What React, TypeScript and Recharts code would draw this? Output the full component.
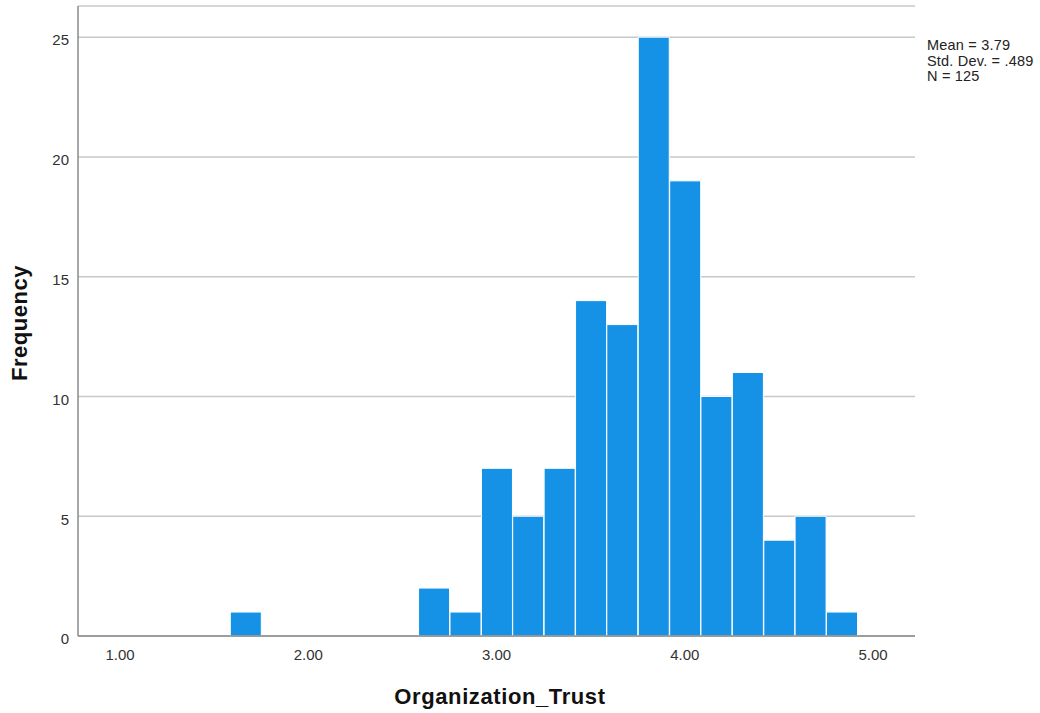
import { BarChart, Bar, XAxis, YAxis, CartesianGrid } from "recharts";

// histogram bins (centres, width 1/6) and their counts
const binCenters = [
  1.669, 1.836, 2.003, 2.169, 2.336, 2.503, 2.669, 2.836, 3.003, 3.169,
  3.336, 3.503, 3.669, 3.836, 4.003, 4.169, 4.336, 4.503, 4.669, 4.836,
];
const counts = [1, 0, 0, 0, 0, 0, 2, 1, 7, 5, 7, 14, 13, 25, 19, 10, 11, 4, 5, 1];

const xTicks = [1, 2, 3, 4, 5];
const yTicks = [0, 5, 10, 15, 20, 25];
const statLines = ["Mean = 3.79", "Std. Dev. = .489", "N = 125"];

const data = binCenters.map((x, i) => ({ x, count: counts[i] }));

const FONT = '"Liberation Sans", Arial, sans-serif';

export default function App() {
  return (
    <div
      style={{
        position: "absolute",
        left: 0,
        top: 0,
        width: 1040,
        height: 713,
        background: "#fff",
        fontFamily: FONT,
      }}
    >
      <BarChart
        width={1040}
        height={713}
        data={data}
        margin={{ top: 6, right: 125, bottom: 47, left: 0 }}
        barCategoryGap={0}
        barGap={0}
      >
        <CartesianGrid horizontal vertical={false} stroke="#c8c8c8" strokeWidth={1.5} />
        <XAxis
          dataKey="x"
          type="number"
          domain={[0.777, 5.223]}
          ticks={xTicks}
          tickFormatter={(v) => Number(v).toFixed(2)}
          tickLine={false}
          axisLine={{ stroke: "#8a8a8a", strokeWidth: 1.5 }}
          tick={{ fill: "#333", fontSize: 15, fontFamily: FONT }}
          height={30}
          dy={5}
          allowDataOverflow
        />
        <YAxis
          type="number"
          domain={[0, 26.3]}
          ticks={yTicks}
          tickLine={false}
          axisLine={{ stroke: "#8a8a8a", strokeWidth: 1.5 }}
          tick={{ fill: "#333", fontSize: 15, fontFamily: FONT }}
          width={78}
          dx={-1}
          dy={3}
          allowDataOverflow
        />
        <Bar
          dataKey="count"
          fill="#1591e6"
          stroke="#ffffff"
          strokeWidth={1}
          isAnimationActive={false}
        />
      </BarChart>
      <div
        style={{
          position: "absolute",
          left: 500,
          top: 686,
          transform: "translateX(-50%)",
          fontSize: 22,
          lineHeight: "22px",
          letterSpacing: 0.6,
          fontWeight: "bold",
          color: "#111",
          whiteSpace: "nowrap",
        }}
      >
        Organization_Trust
      </div>
      <div
        style={{
          position: "absolute",
          left: 20,
          top: 323,
          transform: "translate(-50%, -50%) rotate(-90deg)",
          fontSize: 22,
          letterSpacing: 0.5,
          fontWeight: "bold",
          color: "#111",
          whiteSpace: "nowrap",
        }}
      >
        Frequency
      </div>
      <div
        style={{
          position: "absolute",
          left: 927,
          top: 38,
          fontSize: 14.5,
          lineHeight: "15.5px",
          letterSpacing: 0.2,
          color: "#222",
          whiteSpace: "nowrap",
        }}
      >
        {statLines.map((s) => (
          <div key={s}>{s}</div>
        ))}
      </div>
    </div>
  );
}
